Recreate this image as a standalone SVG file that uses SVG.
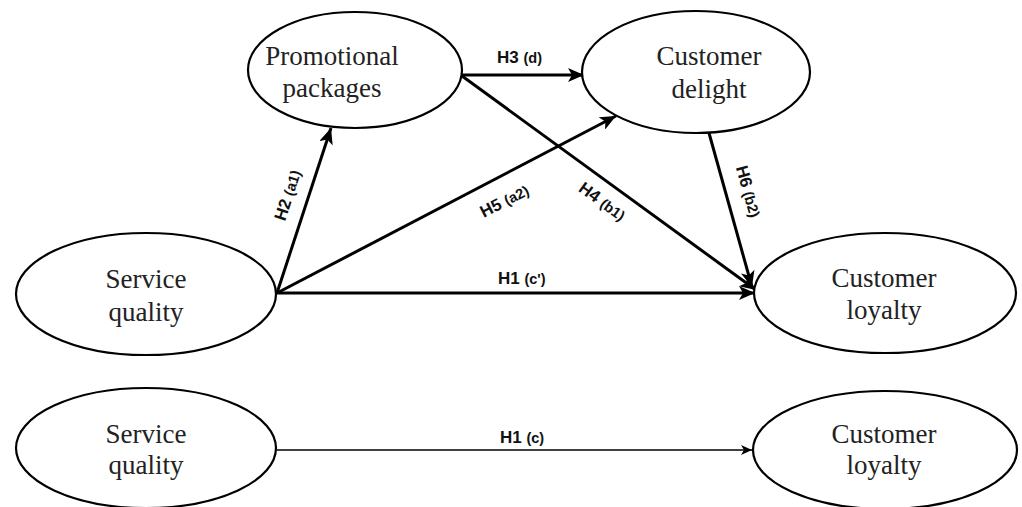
<svg xmlns="http://www.w3.org/2000/svg" width="1022" height="507" viewBox="0 0 1022 507">
<style>
.node ellipse{fill:#fff;stroke:#000;stroke-width:2.2}
.node text{font-family:"Liberation Serif","Times New Roman",serif;font-size:27px;fill:#222;text-anchor:middle}
.edge{stroke:#000;stroke-width:3;fill:none}
.thin{stroke:#000;stroke-width:1.6;fill:none}
.lbl{font-family:"Liberation Sans",Arial,sans-serif;font-weight:bold;font-size:17px;fill:#111}
.lbl tspan.s{font-size:14.5px}
</style>
<defs>
<marker id="ah" markerUnits="userSpaceOnUse" markerWidth="18" markerHeight="14" refX="16" refY="7" orient="auto">
<path d="M0,0 L16,7 L0,14 L4,7 z" fill="#000"/>
</marker>
<marker id="ahs" markerUnits="userSpaceOnUse" markerWidth="12" markerHeight="10" refX="11" refY="5" orient="auto">
<path d="M0,0 L11,5 L0,10 L3,5 z" fill="#000"/>
</marker>
</defs>
<rect width="1022" height="507" fill="#fff"/>
<g id="connectors">
<line class="edge" x1="277" y1="293" x2="331" y2="128" marker-end="url(#ah)"/>
<line class="edge" x1="277" y1="293" x2="616" y2="116" marker-end="url(#ah)"/>
<line class="edge" x1="462" y1="75" x2="584" y2="75" marker-end="url(#ah)"/>
<line class="edge" x1="462" y1="76" x2="756" y2="290" marker-end="url(#ah)"/>
<line class="edge" x1="277" y1="293" x2="755" y2="293" marker-end="url(#ah)"/>
<line class="edge" x1="709" y1="133" x2="752" y2="287" marker-end="url(#ah)"/>
<line class="thin" x1="277" y1="450" x2="752" y2="450" marker-end="url(#ahs)"/>
<text class="lbl" transform="translate(293,197) rotate(-72)" text-anchor="middle">H2 <tspan class="s">(a1)</tspan></text>
<text class="lbl" transform="translate(507,206) rotate(-27.5)" text-anchor="middle">H5 <tspan class="s">(a2)</tspan></text>
<text class="lbl" transform="translate(599,206) rotate(36)" text-anchor="middle">H4 <tspan class="s">(b1)</tspan></text>
<text class="lbl" transform="translate(743,193) rotate(74)" text-anchor="middle">H6 <tspan class="s">(b2)</tspan></text>
<text class="lbl" x="497" y="63">H3 <tspan class="s">(d)</tspan></text>
<text class="lbl" x="498" y="284">H1 <tspan class="s">(c')</tspan></text>
<text class="lbl" x="500" y="443">H1 <tspan class="s">(c)</tspan></text>
</g>
<g id="promo" class="node">
<ellipse cx="355" cy="70" rx="107" ry="58"/>
<text x="332" y="65">Promotional</text>
<text x="332" y="97">packages</text>
</g>
<g id="delight" class="node">
<ellipse cx="696" cy="72" rx="114" ry="61"/>
<text x="709" y="65">Customer</text>
<text x="709" y="98">delight</text>
</g>
<g id="sq1" class="node">
<ellipse cx="146" cy="294" rx="130" ry="61"/>
<text x="146" y="288">Service</text>
<text x="146" y="321">quality</text>
</g>
<g id="cl1" class="node">
<ellipse cx="885" cy="293" rx="131" ry="60"/>
<text x="884" y="287">Customer</text>
<text x="884" y="319">loyalty</text>
</g>
<g id="sq2" class="node">
<ellipse cx="146" cy="448" rx="130" ry="60"/>
<text x="146" y="443">Service</text>
<text x="146" y="474">quality</text>
</g>
<g id="cl2" class="node">
<ellipse cx="885" cy="450" rx="132" ry="59"/>
<text x="884" y="443">Customer</text>
<text x="884" y="474">loyalty</text>
</g>
</svg>
